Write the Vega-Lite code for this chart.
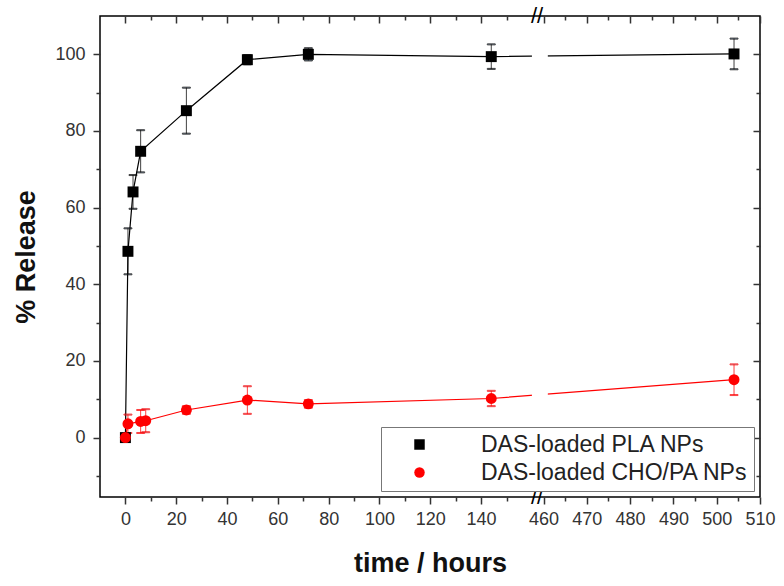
{
  "$schema": "https://vega.github.io/schema/vega-lite/v6.json",
  "width": 660,
  "height": 481,
  "autosize": "none",
  "padding": {"left": 100, "top": 16, "right": 24, "bottom": 89},
  "background": "white",
  "config": {
    "view": {"stroke": "#000", "strokeWidth": 1.5},
    "font": "Liberation Sans",
    "axis": {
      "grid": false,
      "domain": false,
      "labelFont": "Liberation Sans",
      "labelFontSize": 18,
      "labelColor": "#333",
      "titleFont": "Liberation Sans",
      "titleFontSize": 27,
      "titleFontWeight": "bold",
      "titleColor": "#111",
      "labelFlush": false,
      "labelOverlap": false
    }
  },
  "data": {
    "values": [
      {"t": 0, "v": 0, "e": 0, "s": "DAS-loaded PLA NPs"},
      {"t": 1, "v": 48.6, "e": 6, "s": "DAS-loaded PLA NPs"},
      {"t": 3, "v": 64.1, "e": 4.4, "s": "DAS-loaded PLA NPs"},
      {"t": 6, "v": 74.7, "e": 5.5, "s": "DAS-loaded PLA NPs"},
      {"t": 24, "v": 85.3, "e": 6, "s": "DAS-loaded PLA NPs"},
      {"t": 48, "v": 98.6, "e": 1.2, "s": "DAS-loaded PLA NPs"},
      {"t": 72, "v": 100, "e": 1.6, "s": "DAS-loaded PLA NPs"},
      {"t": 144, "v": 99.4, "e": 3.2, "s": "DAS-loaded PLA NPs"},
      {"t": 504, "v": 100.1, "e": 4, "s": "DAS-loaded PLA NPs"},
      {"t": 0, "v": 0, "e": 0.5, "s": "DAS-loaded CHO/PA NPs"},
      {"t": 1, "v": 3.6, "e": 2.4, "s": "DAS-loaded CHO/PA NPs"},
      {"t": 6, "v": 4.2, "e": 3, "s": "DAS-loaded CHO/PA NPs"},
      {"t": 8, "v": 4.4, "e": 3, "s": "DAS-loaded CHO/PA NPs"},
      {"t": 24, "v": 7.2, "e": 1, "s": "DAS-loaded CHO/PA NPs"},
      {"t": 48, "v": 9.8, "e": 3.6, "s": "DAS-loaded CHO/PA NPs"},
      {"t": 72, "v": 8.8, "e": 1, "s": "DAS-loaded CHO/PA NPs"},
      {"t": 144, "v": 10.2, "e": 2, "s": "DAS-loaded CHO/PA NPs"},
      {"t": 504, "v": 15.1, "e": 4, "s": "DAS-loaded CHO/PA NPs"}
    ]
  },
  "resolve": {"axis": {"x": "independent", "y": "independent"}},
  "layer": [
    {
      "mark": {"type": "line", "strokeWidth": 1.2},
      "encoding": {
        "x": {
          "field": "t", "type": "quantitative",
          "scale": {"type": "linear", "domain": [-10, 162, 460, 510], "range": [0, 437, 443.5, 660], "nice": false, "zero": false},
          "axis": {
            "orient": "top",
            "values": [0,20,40,60,80,100,120,140,460,470,480,490,500,510],
            "labels": false,
            "tickColor": "#333",
            "tickWidth": 1.5,
            "title": null,
            "tickSize": -7
          }
        },
        "y": {
          "field": "v", "type": "quantitative",
          "scale": {"domain": [-15.5, 110], "nice": false, "zero": false},
          "axis": {
            "orient": "right",
            "values": [0,20,40,60,80,100],
            "labels": false,
            "tickColor": "#333",
            "tickWidth": 1.5,
            "title": null,
            "tickSize": -7
          }
        },
        "stroke": {
          "field": "s", "type": "nominal",
          "scale": {"domain": ["DAS-loaded CHO/PA NPs", "DAS-loaded PLA NPs"], "range": ["#ff0000", "#000000"]},
          "legend": null
        }
      }
    },
    {
      "data": {"values": [{}]},
      "mark": {"type": "rect", "color": "white"},
      "encoding": {
        "x": {
          "datum": 160, "type": "quantitative",
          "axis": {
            "orient": "bottom",
            "values": [10,30,50,70,90,110,130,150,465,475,485,495,505],
            "labels": false,
            "tickColor": "#333",
            "tickWidth": 1.5,
            "title": null,
            "tickSize": 4
          }
        },
        "x2": {"datum": 461},
        "y": {
          "datum": -12, "type": "quantitative",
          "axis": {
            "orient": "left",
            "values": [-10,10,30,50,70,90],
            "labels": false,
            "tickColor": "#333",
            "tickWidth": 1.5,
            "title": null,
            "tickSize": 4
          }
        },
        "y2": {"datum": 106}
      }
    },
    {
      "mark": {"type": "errorbar", "ticks": {"size": 8, "opacity": 0.75}, "rule": {"opacity": 0.75}, "thickness": 1},
      "encoding": {
        "x": {"field": "t", "type": "quantitative", "axis": null},
        "y": {"field": "v", "type": "quantitative", "axis": null},
        "yError": {"field": "e"},
        "stroke": {"field": "s", "type": "nominal", "legend": null}
      }
    },
    {
      "mark": {"type": "point", "filled": true, "size": 120, "opacity": 1},
      "encoding": {
        "x": {
          "field": "t", "type": "quantitative",
          "scale": {"type": "linear", "domain": [-10, 162, 460, 510], "range": [0, 437, 443.5, 660], "nice": false, "zero": false},
          "axis": {
            "orient": "bottom",
            "values": [0,20,40,60,80,100,120,140,460,470,480,490,500,510],
            "tickColor": "#333",
            "tickWidth": 1.5,
            "tickSize": 7,
            "labelPadding": 6,
            "title": "time / hours",
            "titlePadding": 22
          }
        },
        "y": {
          "field": "v", "type": "quantitative",
          "scale": {"domain": [-15.5, 110], "nice": false, "zero": false},
          "axis": {
            "orient": "left",
            "values": [0,20,40,60,80,100],
            "tickColor": "#333",
            "tickWidth": 1.5,
            "tickSize": 7,
            "labelPadding": 8,
            "title": "% Release",
            "titlePadding": 14
          }
        },
        "shape": {
          "field": "s", "type": "nominal",
          "scale": {"domain": ["DAS-loaded PLA NPs", "DAS-loaded CHO/PA NPs"], "range": ["square", "circle"]}
        },
        "color": {
          "field": "s", "type": "nominal",
          "scale": {"domain": ["DAS-loaded PLA NPs", "DAS-loaded CHO/PA NPs"], "range": ["#000000", "#ff0000"]},
          "legend": {
            "title": null,
            "orient": "bottom-right",
            "offset": 6,
            "fillColor": "white",
            "strokeColor": "#777",
            "padding": 6,
            "labelFont": "Liberation Sans",
            "labelFontSize": 23,
            "labelColor": "#222",
            "labelLimit": 400,
            "symbolSize": 110,
            "symbolOpacity": 1,
            "symbolStrokeWidth": 0,
            "symbolOffset": 21,
            "rowPadding": 4,
            "labelOffset": 50
          }
        }
      }
    },
    {
      "data": {"values": [{}]},
      "mark": {"type": "text", "text": "//", "fontSize": 22, "font": "Liberation Sans", "baseline": "middle", "align": "center"},
      "encoding": {
        "x": {
          "datum": 162, "type": "quantitative",
          "axis": {
            "orient": "top",
            "values": [10,30,50,70,90,110,130,150,465,475,485,495,505],
            "labels": false,
            "tickColor": "#333",
            "tickWidth": 1.5,
            "title": null,
            "tickSize": -4
          }
        },
        "y": {
          "datum": 110, "type": "quantitative",
          "axis": {
            "orient": "right",
            "values": [-10,10,30,50,70,90],
            "labels": false,
            "tickColor": "#333",
            "tickWidth": 1.5,
            "title": null,
            "tickSize": -4
          }
        }
      }
    },
    {
      "data": {"values": [{}]},
      "mark": {"type": "text", "text": "//", "fontSize": 22, "font": "Liberation Sans", "baseline": "middle", "align": "center"},
      "encoding": {
        "x": {"datum": 162, "type": "quantitative", "axis": null},
        "y": {"datum": -15.5, "type": "quantitative", "axis": null}
      }
    }
  ]
}
